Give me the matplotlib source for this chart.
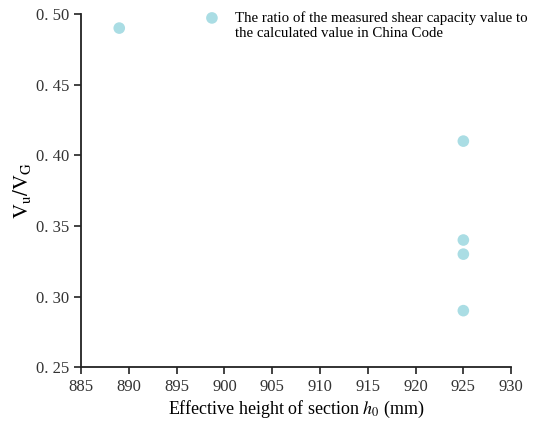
import matplotlib
matplotlib.use("Agg")
import matplotlib.pyplot as plt

# effective height h0 (mm) and ratio Vu/VG
h0 = [889, 925, 925, 925, 925]
ratio = [0.49, 0.41, 0.34, 0.33, 0.29]
xticks = [885, 890, 895, 900, 905, 910, 915, 920, 925, 930]
yticks = [0.25, 0.30, 0.35, 0.40, 0.45, 0.50]
ytick_labels = ["0. 25", "0. 30", "0. 35", "0. 40", "0. 45", "0. 50"]

plt.rcParams["font.family"] = ["Liberation Serif", "DejaVu Serif"]
plt.rcParams["mathtext.fontset"] = "stix"

fig = plt.figure(figsize=(5.33, 4.23), dpi=100)
ax = fig.add_axes([0.152, 0.132, 0.807, 0.835])

ax.scatter(h0, ratio, s=70, color="#aadde4", edgecolors="none",
           label="The ratio of the measured shear capacity value to\nthe calculated value in China Code", clip_on=False)

ax.set_xlim(885, 930)
ax.set_ylim(0.25, 0.50)
ax.set_xticks(xticks)
ax.set_yticks(yticks)
ax.set_yticklabels(ytick_labels)
ax.tick_params(labelsize=12, width=1.2, length=5, color="#222222", labelcolor="#333333")
for s in ["top", "right"]:
    ax.spines[s].set_visible(False)
for s in ["left", "bottom"]:
    ax.spines[s].set_linewidth(1.3)
    ax.spines[s].set_color("#222222")

ax.set_xlabel("Effective height of section $h_0$ (mm)", fontsize=13, labelpad=3)
ax.set_ylabel("$\\mathrm{V_u/V_G}$", fontsize=15, labelpad=2)

leg = ax.legend(loc="upper left", bbox_to_anchor=(0.256, 1.024), frameon=False, fontsize=10.7,
                handletextpad=0.55, borderaxespad=0, labelspacing=0.2)
# marker sits next to the first line of the label, not the middle
for col in leg._legend_handle_box.get_children():
    for row in col.get_children():
        row.align = "top"

fig.savefig("out.png", dpi=100)
